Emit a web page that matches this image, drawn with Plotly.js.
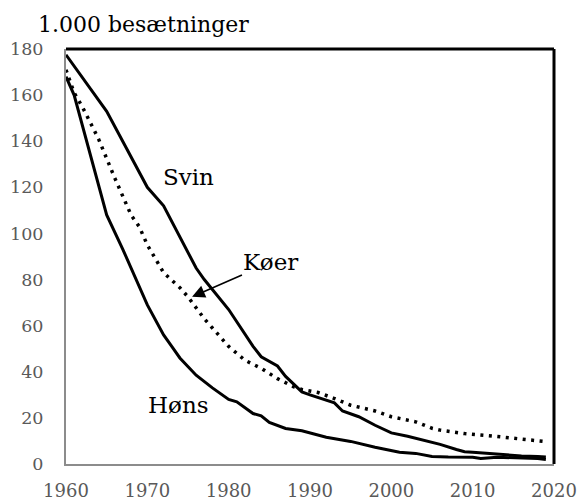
<!DOCTYPE html>
<html>
<head>
<meta charset="utf-8">
<script src="https://cdn.plot.ly/plotly-3.0.1.min.js"></script>
<style>
html,body{margin:0;padding:0;background:#fff;}
#chart{width:580px;height:502px;}
</style>
</head>
<body>
<div id="chart"></div>
<script>
// Svin (pigs)
const svinYears = [1960,1965,1970,1972,1976,1977,1980,1983,1984,1986,1987,1989,1990,1992,1993,1994,1996,1998,1999,2000,2002,2004,2006,2008,2009,2010,2012,2014,2016,2018,2019];
const svinValues = [177.5,153,120,112,85,80,67,51,46.5,42.5,38,31.3,30,27.6,26.5,23,20.5,16.8,15,13.5,12,10.3,8.5,6.3,5.3,5.1,4.5,3.9,3.5,3.2,3.0];
// Køer (cows)
const koerYears = [1960,1961,1962,1964,1966,1968,1969,1970,1972,1974,1975,1977,1978,1980,1982,1984,1986,1988,1989,1991,1993,1995,1998,2000,2003,2005,2006,2009,2012,2015,2017,2019];
const koerValues = [171,161,155,141,124,108,103,95,83,76.5,72.5,63,59,51,45,41.5,37,33.5,32.3,31,28.4,25.5,23,20.5,18.3,15.5,14.7,13.2,12.3,11.3,10.5,9.7];
// Høns (hens)
const honsYears = [1960,1961,1965,1967,1970,1972,1973,1974,1976,1978,1980,1981,1983,1984,1985,1987,1989,1990,1992,1995,1997,1998,2001,2003,2005,2007,2010,2011,2013,2016,2018,2019];
const honsValues = [168,160,108,93,69,56,51,46,38.5,33,28,27,21.9,20.9,18,15.4,14.4,13.5,11.6,9.8,8,7.3,5.1,4.6,3.3,3.0,2.9,2.4,2.9,2.7,2.4,2.0];

const xTicks = [1960,1970,1980,1990,2000,2010,2020];
const yTicks = [0,20,40,60,80,100,120,140,160,180];

const titleText = "1.000 besætninger";
const labelSvin = "Svin";
const labelKoer = "Køer";
const labelHons = "Høns";

const FONT = "DejaVu Serif";

const traces = [
  {x: svinYears, y: svinValues, type: 'scatter', mode: 'lines', name: labelSvin,
   line: {color: '#000', width: 3}},
  {x: koerYears, y: koerValues, type: 'scatter', mode: 'lines', name: labelKoer,
   line: {color: '#000', width: 3.5, dash: '3px,5.5px'}},
  {x: honsYears, y: honsValues, type: 'scatter', mode: 'lines', name: labelHons,
   line: {color: '#000', width: 3}}
];

const layout = {
  width: 580, height: 502,
  margin: {l: 66, r: 26, t: 49, b: 38, pad: 0},
  paper_bgcolor: '#fff', plot_bgcolor: '#fff',
  showlegend: false,
  font: {family: FONT, color: '#000'},
  title: {text: titleText, font: {family: FONT, size: 22, color: '#000'},
          xref: 'container', yref: 'container', x: 38/580, xanchor: 'left',
          y: 1 - 24/502, yanchor: 'middle'},
  xaxis: {range: [1960, 2020], tickvals: xTicks, ticktext: xTicks.map(String),
          showgrid: false, zeroline: false, showline: true, linecolor: '#8c8c8c', linewidth: 2,
          ticks: '', tickfont: {family: FONT, size: 18, color: '#595959'}, ticklabelstandoff: 9},
  yaxis: {range: [0, 180], tickvals: yTicks, ticktext: yTicks.map(String),
          showgrid: false, zeroline: false, showline: true, linecolor: '#8c8c8c', linewidth: 2,
          ticks: '', tickfont: {family: FONT, size: 17.5, color: '#595959'}, ticklabelstandoff: 17},
  shapes: [
    {type: 'line', xref: 'paper', yref: 'paper', x0: 0, x1: 1, y0: 1, y1: 1, line: {color: '#000', width: 3}},
    {type: 'line', xref: 'paper', yref: 'paper', x0: 1, x1: 1, y0: 0, y1: 1, line: {color: '#000', width: 3}}
  ],
  annotations: [
    {x: 1971.7, y: 124.3, xref: 'x', yref: 'y', text: labelSvin, showarrow: false,
     xanchor: 'left', yanchor: 'middle', font: {family: FONT, size: 23, color: '#000'}},
    {x: 1969.8, y: 25.5, xref: 'x', yref: 'y', text: labelHons, showarrow: false,
     xanchor: 'left', yanchor: 'middle', font: {family: FONT, size: 23, color: '#000'}},
    {x: 1975.5, y: 72.5, xref: 'x', yref: 'y', ax: 1985.2, ay: 87.5, axref: 'x', ayref: 'y',
     text: labelKoer, showarrow: true, arrowhead: 2, arrowsize: 1.6, arrowwidth: 1.6, arrowcolor: '#000',
     font: {family: FONT, size: 23, color: '#000'}}
  ]
};

Plotly.newPlot('chart', traces, layout, {displayModeBar: false, staticPlot: true});
</script>
</body>
</html>
